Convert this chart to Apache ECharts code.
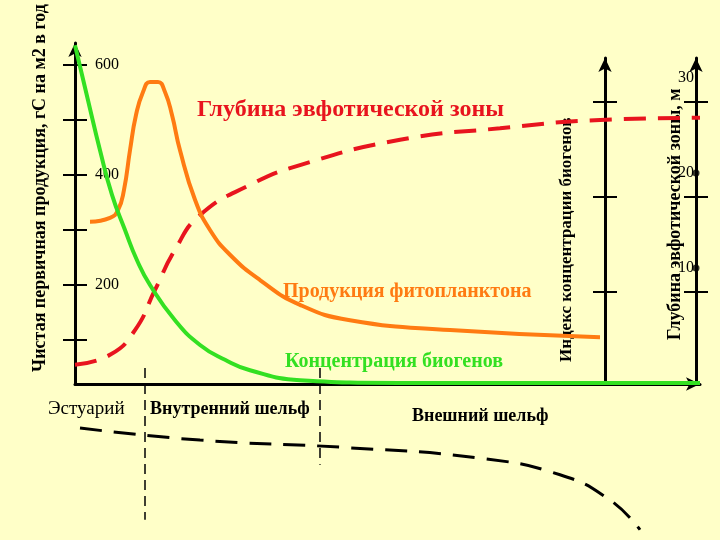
<!DOCTYPE html><html><head><meta charset="utf-8"><script src="https://cdn.jsdelivr.net/npm/echarts@6/dist/echarts.min.js"></script></head><body style="margin:0;background:#ffffc8"><div id="c" style="width:720px;height:540px"></div><script>
const biogen=[[0,636],[13,536],[25,445],[37,364],[50,300],[62,245],[75,200],[100,136],[125,91],[150,64],[175,45],[225,27],[325,22],[625,22]];
const production=[[15,315],[35,322],[43,336],[49,373],[55,445],[61,509],[68,551],[75,569],[83,569],[90,551],[97,509],[105,445],[120,355],[135,300],[155,255],[185,209],[225,164],[275,136],[375,118],[525,105]];
const euphotic=[[0,55],[35,73],[60,118],[80,191],[100,264],[125,327],[175,382],[225,418],[325,464],[425,485],[525,500],[625,504]];
const shelfEdge=[[5,-60],[125,-82],[275,-96],[405,-115],[485,-145],[535,-191],[565,-245]];
const border1=[[70,49],[70,-227]], border2=[[245,49],[245,-127]];
const leftTicks=[100,200,300,400,500,600], leftLabels=[200,400,600];
const rightTicks=[7.5,17.5,27.5], rightLabels=[10,20,30];
const dots=[[1,10],[1,20]];
const serif='"Liberation Serif","DejaVu Serif",serif';
const ch=echarts.init(document.getElementById('c'));
const ax={lineStyle:{color:'#000',width:3}};
const tk={length:12,lineStyle:{color:'#000',width:2}};
ch.setOption({backgroundColor:'#ffffc8',animation:false,
grid:[{left:75,right:20,top:43,bottom:156},{left:605,width:91,top:58,bottom:157}],
xAxis:[{type:'value',min:0,max:625,gridIndex:0,axisLine:{show:true,symbol:['none','arrow'],symbolSize:[10,14],lineStyle:{color:'#000',width:3}},axisTick:{show:false},axisLabel:{show:false},splitLine:{show:false}},
{type:'value',min:0,max:1,gridIndex:1,show:false}],
yAxis:[
{gridIndex:0,type:'value',min:20,max:640,position:'left',axisLine:{show:true,symbol:['none','arrow'],symbolSize:[10,14],...ax},axisTick:{show:true,customValues:leftTicks,...tk},axisLabel:{show:false},splitLine:{show:false}},
{gridIndex:0,type:'value',min:20,max:640,position:'left',axisLine:{show:false},axisTick:{show:true,inside:true,customValues:leftTicks,...tk},axisLabel:{show:true,inside:true,customValues:leftLabels,margin:20,color:'#000',fontFamily:serif,fontSize:16},splitLine:{show:false}},
{gridIndex:1,type:'value',min:-2.1,max:32.1,position:'left',axisLine:{show:true,symbol:['none','arrow'],symbolSize:[10,14],...ax},axisTick:{show:true,customValues:rightTicks,...tk},axisLabel:{show:false},splitLine:{show:false}},
{gridIndex:1,type:'value',min:-2.1,max:32.1,position:'left',axisLine:{show:false},axisTick:{show:true,inside:true,customValues:rightTicks,...tk},axisLabel:{show:false},splitLine:{show:false}},
{gridIndex:1,type:'value',min:-2.1,max:32.1,position:'right',axisLine:{show:true,symbol:['none','arrow'],symbolSize:[10,14],...ax},axisTick:{show:true,customValues:rightTicks,...tk},axisLabel:{show:false},splitLine:{show:false}},
{gridIndex:1,type:'value',min:-2.1,max:32.1,position:'right',axisLine:{show:false},axisTick:{show:true,inside:true,customValues:rightTicks,...tk},axisLabel:{show:true,inside:true,customValues:rightLabels,margin:2,color:'#000',fontFamily:serif,fontSize:16},splitLine:{show:false}}
],
series:[
{type:'line',data:euphotic,smooth:true,showSymbol:false,clip:false,lineStyle:{color:'#e8141e',width:4,type:[22,12]}},
{type:'line',data:production,smooth:true,showSymbol:false,clip:false,lineStyle:{color:'#ff7b12',width:4}},
{type:'line',data:biogen,smooth:true,showSymbol:false,clip:false,lineStyle:{color:'#33e022',width:4}},
{type:'line',data:shelfEdge,smooth:true,showSymbol:false,clip:false,lineStyle:{color:'#000',width:3,type:[22,12]}},
{type:'line',data:border1,showSymbol:false,clip:false,lineStyle:{color:'#000',width:1.5,type:[10,6]}},
{type:'line',data:border2,showSymbol:false,clip:false,lineStyle:{color:'#000',width:1.5,type:[10,6]}},
{type:'scatter',xAxisIndex:1,yAxisIndex:4,data:dots,symbolSize:7,itemStyle:{color:'#000'},clip:false}
],
graphic:[
{type:'text',left:197,top:98,style:{text:'Глубина эвфотической зоны',font:'bold 24px '+serif,fill:'#e8141e'}},
{type:'text',left:283,top:282,style:{text:'Продукция фитопланктона',font:'bold 20px '+serif,fill:'#ff7b12'}},
{type:'text',left:285,top:352,style:{text:'Концентрация биогенов',font:'bold 20px '+serif,fill:'#33e022'}},
{type:'text',left:48,top:400,style:{text:'Эстуарий',font:'19px '+serif,fill:'#000'}},
{type:'text',left:150,top:400,style:{text:'Внутренний шельф',font:'bold 18px '+serif,fill:'#000'}},
{type:'text',left:412,top:407,style:{text:'Внешний шельф',font:'bold 18px '+serif,fill:'#000'}},
{type:'text',x:40,y:372,rotation:Math.PI/2,style:{text:'Чистая первичная продукция, гС на м2 в год',font:'bold 18px '+serif,fill:'#000',textAlign:'left',textVerticalAlign:'middle'}},
{type:'text',x:567,y:362,rotation:Math.PI/2,style:{text:'Индекс концентрации биогенов',font:'bold 17px '+serif,fill:'#000',textAlign:'left',textVerticalAlign:'middle'}},
{type:'text',x:675,y:340,rotation:Math.PI/2,style:{text:'Глубина эвфотической зоны, м',font:'bold 18px '+serif,fill:'#000',textAlign:'left',textVerticalAlign:'middle'}}
]});
</script></body></html>
